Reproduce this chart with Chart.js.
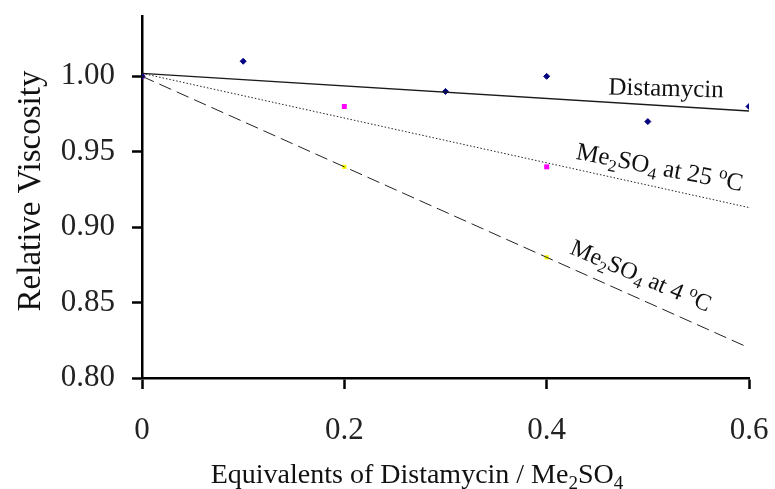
<!DOCTYPE html>
<html>
<head>
<meta charset="utf-8">
<script src="https://cdn.jsdelivr.net/npm/chart.js@4"></script>
<style>
  html, body { margin: 0; padding: 0; background: #fff; }
  #wrap { width: 775px; height: 489px; }
</style>
</head>
<body>
<div id="wrap"><canvas id="c" width="775" height="489"></canvas></div>
<script>
// Relative viscosity of DNA solutions vs. added equivalents
const distamycinX = [0, 0.1, 0.3, 0.4, 0.5, 0.6];
const distamycinY = [1.00, 1.01, 0.99, 1.00, 0.97, 0.98];
const dmsoX = [0, 0.2, 0.4];
const dmso25Y = [1.00, 0.98, 0.94];
const dmso4Y = [1.00, 0.94, 0.88];

// straight-line fits, evaluated at the ends of the x range
const fitX = [0, 0.6];
const distamycinFit = [1.002, 0.977];
const dmso25Fit = [1.002, 0.913];
const dmso4Fit = [1.000, 0.820];

const xTicks = [0, 0.2, 0.4, 0.6];
const yTicks = [0.80, 0.85, 0.90, 0.95, 1.00];

const SERIF = "'Liberation Serif', 'Times New Roman', serif";
const pts = (xs, ys) => xs.map((x, i) => ({ x: x, y: ys[i] }));

// text runs: plain, subscript or superscript pieces
function richWidth(ctx, parts, size) {
  let w = 0;
  parts.forEach(p => {
    const s = p.sub || p.sup ? size * 0.68 : size;
    ctx.font = s + 'px ' + SERIF;
    w += ctx.measureText(p.t).width;
  });
  return w;
}
function drawRich(ctx, parts, cx, cy, angleDeg, size, color) {
  ctx.save();
  ctx.translate(cx, cy);
  ctx.rotate(angleDeg * Math.PI / 180);
  ctx.fillStyle = color;
  ctx.textBaseline = 'alphabetic';
  ctx.textAlign = 'left';
  const w = richWidth(ctx, parts, size);
  let x = -w / 2;
  const base = size * 0.33;
  parts.forEach(p => {
    const s = p.sub || p.sup ? size * 0.68 : size;
    ctx.font = s + 'px ' + SERIF;
    let dy = 0;
    if (p.sub) dy = size * 0.22;
    if (p.sup) dy = -size * 0.36;
    ctx.fillText(p.t, x, base + dy);
    x += ctx.measureText(p.t).width;
  });
  ctx.restore();
}

const seriesLabels = [
  { parts: [{ t: 'Distamycin' }], x: 0.518, y: 0.9925, angle: 1.5, size: 25 },
  { parts: [{ t: 'Me' }, { t: '2', sub: true }, { t: 'SO' }, { t: '4', sub: true }, { t: ' at 25 ' }, { t: 'o', sup: true }, { t: 'C' }],
    x: 0.512, y: 0.940, angle: 11, size: 25 },
  { parts: [{ t: 'Me' }, { t: '2', sub: true }, { t: 'SO' }, { t: '4', sub: true }, { t: ' at 4 ' }, { t: 'o', sup: true }, { t: 'C' }],
    x: 0.4934, y: 0.868, angle: 23, size: 24 }
];

const textPlugin = {
  id: 'chartText',
  afterDraw(chart) {
    const ctx = chart.ctx;
    const xs = chart.scales.x, ys = chart.scales.y;
    seriesLabels.forEach(l => {
      drawRich(ctx, l.parts, xs.getPixelForValue(l.x), ys.getPixelForValue(l.y), l.angle, l.size, '#111');
    });
    // axis titles
    drawRich(ctx, [{ t: 'Equivalents of Distamycin / Me' }, { t: '2', sub: true }, { t: 'SO' }, { t: '4', sub: true }],
      417, 474, 0, 28, '#111');
    drawRich(ctx, [{ t: 'Relative Viscosity' }], 29, 191, -90, 33, '#111');
  }
};

new Chart(document.getElementById('c'), {
  type: 'scatter',
  data: {
    datasets: [
      { data: pts(fitX, distamycinFit), showLine: true, borderColor: '#1a1a1a', borderWidth: 1.3,
        pointRadius: 0, fill: false },
      { data: pts(fitX, dmso25Fit), showLine: true, borderColor: '#222', borderWidth: 1,
        borderDash: [1.5, 2], pointRadius: 0, fill: false },
      { data: pts(fitX, dmso4Fit), showLine: true, borderColor: '#222', borderWidth: 1,
        borderDash: [13, 6], pointRadius: 0, fill: false },
      { data: pts(distamycinX, distamycinY), pointStyle: 'rectRot', pointRadius: 3,
        backgroundColor: '#000080', borderColor: '#000080', borderWidth: 1 },
      { data: pts(dmsoX, dmso25Y), pointStyle: 'rect', pointRadius: 3.5,
        backgroundColor: '#ff00ff', borderColor: '#ff00ff', borderWidth: 0 },
      { data: pts(dmsoX, dmso4Y), pointStyle: 'rect', pointRadius: 3,
        backgroundColor: '#ffff00', borderColor: '#ffff00', borderWidth: 0 }
    ]
  },
  options: {
    responsive: false,
    animation: false,
    devicePixelRatio: 1,
    layout: { padding: { top: 16, right: 26, left: 0, bottom: 0 } },
    plugins: { legend: { display: false }, tooltip: { enabled: false } },
    scales: {
      x: {
        type: 'linear', min: 0, max: 0.6,
        afterBuildTicks: s => { s.ticks = xTicks.map(v => ({ value: v })); },
        afterFit: s => { s.height = 111; s.paddingLeft = 0; s.paddingRight = 0; },
        border: { color: '#000', width: 2.5 },
        grid: { drawOnChartArea: false, color: '#000', tickLength: 11, tickWidth: 2.5 },
        ticks: {
          color: '#222', padding: 26,
          font: { family: SERIF, size: 31, lineHeight: 1 },
          callback: v => v === 0 ? '0' : v.toFixed(1)
        }
      },
      y: {
        type: 'linear', min: 0.80, max: 1.04,
        afterBuildTicks: s => { s.ticks = yTicks.map(v => ({ value: v })); },
        afterFit: s => { s.width = 142; s.paddingTop = 0; s.paddingBottom = 0; },
        border: { color: '#000', width: 2.5 },
        grid: { drawOnChartArea: false, color: '#000', tickLength: 10, tickWidth: 2.5 },
        ticks: {
          color: '#222', padding: 17,
          font: { family: SERIF, size: 31, lineHeight: 1 },
          callback: v => v.toFixed(2)
        }
      }
    }
  },
  plugins: [textPlugin]
});
</script>
</body>
</html>
